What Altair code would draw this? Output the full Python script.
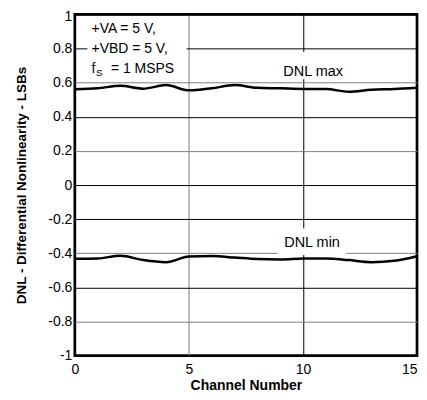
import altair as alt
import pandas as pd

# ---- data ----
channels = list(range(16))
dnl_max = [0.561, 0.567, 0.582, 0.565, 0.586, 0.555, 0.567, 0.586,
           0.570, 0.567, 0.563, 0.563, 0.547, 0.559, 0.563, 0.570]
dnl_min = [-0.432, -0.430, -0.415, -0.440, -0.452, -0.419, -0.416, -0.425,
           -0.434, -0.436, -0.431, -0.430, -0.440, -0.452, -0.444, -0.417]

x_ticks = [0, 5, 10, 15]
y_ticks = [-1, -0.8, -0.6, -0.4, -0.2, 0, 0.2, 0.4, 0.6, 0.8, 1]

# annotation labels (data coordinates)
label_text = ["DNL max", "DNL min"]
label_x = [10.45, 10.4]
label_y = [0.665, -0.337]
# white boxes behind the annotations (data coordinates)
box_x = [0.55, 8.8, 8.9]
box_x2 = [4.9, 12.1, 11.9]
box_y = [0.985, 0.78, -0.255]
box_y2 = [0.615, 0.62, -0.41]

cond_lines = ["+VA = 5 V,", "+VBD = 5 V,"]
cond_x = [0.73, 0.73]
cond_y = [0.891, 0.774]
fs_x = 0.73
fs_y = 0.658

FONT = "Arial, Liberation Sans, sans-serif"

df = pd.DataFrame({
    "ch": channels * 2,
    "dnl": dnl_max + dnl_min,
    "series": ["max"] * 16 + ["min"] * 16,
})
boxes = pd.DataFrame({"x": box_x, "x2": box_x2, "y": box_y, "y2": box_y2})
labels = pd.DataFrame({"t": label_text, "x": label_x, "y": label_y})
conds = pd.DataFrame({"t": cond_lines, "x": cond_x, "y": cond_y})
fs = pd.DataFrame({"x": [fs_x], "y": [fs_y]})

xscale = alt.Scale(domain=[0, 15], nice=False, zero=False)
yscale = alt.Scale(domain=[-1, 1], nice=False)

xaxis = alt.Axis(values=x_ticks, title="Channel Number", grid=True,
                 gridColor={"condition": {"test": "datum.value == 5", "value": "#808080"}, "value": "black"},
                 gridWidth=1, tickSize=0, domain=False, labelOverlap=False,
                 labelAlign={"condition": {"test": "datum.value == 15", "value": "right"}, "value": "center"},
                 labelFontSize=14, labelFont=FONT, labelColor="black", labelPadding=7,
                 titleFont=FONT, titleFontSize=14, titleFontWeight="bold", titleColor="black",
                 titlePadding=2, labelFlush=False)
yaxis = alt.Axis(values=y_ticks, title="DNL - Differential Nonlinearity - LSBs", grid=True,
                 gridColor={"condition": {"test": "abs(datum.value - 0.6) < 0.01 || abs(datum.value - 0.2) < 0.01 || abs(datum.value + 0.4) < 0.01 || abs(datum.value + 0.8) < 0.01",
                                          "value": "#808080"}, "value": "black"},
                 gridWidth=1, tickSize=0, domain=False, labelOverlap=False,
                 labelExpr="datum.value + ''",
                 labelOffset={"condition": {"test": "datum.value == 1", "value": 2}, "value": 0},
                 labelFontSize=14, labelFont=FONT, labelColor="black", labelPadding=3,
                 titleFont=FONT, titleFontSize=13.5, titleFontWeight="bold", titleColor="black",
                 titleX=-53, titleY=171, titleAngle=-90, titleBaseline="middle", titleAlign="center",
                 labelFlush=False)

X = lambda f: alt.X(f, scale=xscale, axis=xaxis)
Y = lambda f: alt.Y(f, scale=yscale, axis=yaxis)

lines = alt.Chart(df).mark_line(color="black", strokeWidth=2.5, interpolate="monotone").encode(
    x=X("ch:Q"), y=Y("dnl:Q"), detail="series:N",
)

box_layer = alt.Chart(boxes).mark_rect(color="white").encode(
    x=X("x:Q"), x2="x2:Q", y=Y("y:Q"), y2="y2:Q",
)

label_layer = alt.Chart(labels).mark_text(font=FONT, fontSize=14.5, color="black", baseline="middle").encode(
    x=X("x:Q"), y=Y("y:Q"), text="t:N"
)

cond_layer = alt.Chart(conds).mark_text(font=FONT, fontSize=14, color="black", align="left",
                                        baseline="alphabetic").encode(
    x=X("x:Q"), y=Y("y:Q"), text="t:N"
)
f_layer = alt.Chart(fs).mark_text(font=FONT, fontSize=14, color="black", align="left",
                                  baseline="alphabetic", text="f").encode(
    x=X("x:Q"), y=Y("y:Q")
)
s_layer = alt.Chart(fs).mark_text(font=FONT, fontSize=10, color="black", align="left",
                                  baseline="alphabetic", text="S", dx=4.5, dy=3.5).encode(
    x=X("x:Q"), y=Y("y:Q")
)
rest_layer = alt.Chart(fs).mark_text(font=FONT, fontSize=14, color="black", align="left",
                                     baseline="alphabetic", text="= 1 MSPS", dx=19.5).encode(
    x=X("x:Q"), y=Y("y:Q")
)

chart = alt.layer(lines, box_layer, label_layer, cond_layer, f_layer, s_layer, rest_layer).properties(
    width=343, height=342,
    autosize=alt.AutoSizeParams(type="none"),
    padding={"left": 67, "top": 6, "right": 2, "bottom": 36},
    background="white",
).configure_view(stroke="black", strokeWidth=2.7)

chart.save("out.html", embed_options={"renderer": "svg", "actions": False})
